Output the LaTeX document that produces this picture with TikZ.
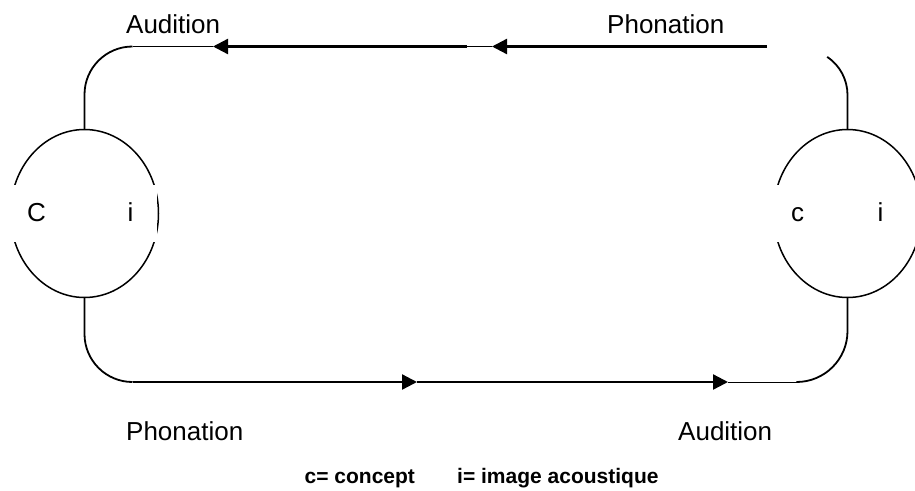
\documentclass[tikz,border=0pt]{standalone}
\usepackage{fontspec}
\setmainfont{Liberation Sans}
\usetikzlibrary{shapes.geometric,arrows.meta}
\begin{document}
\begin{tikzpicture}[x=1pt,y=-1pt,
  ring/.style={draw, ellipse, line width=1.5pt, minimum width=148pt, minimum height=168pt, inner sep=0pt, outer sep=0pt},
  conn/.style={line width=1.8pt},
  thinline/.style={line width=0.8pt},
  flow/.style={line width=2.3pt, -{Triangle[length=15pt,width=15pt]}},
  lab/.style={anchor=base west, inner sep=0pt, font=\fontsize{26}{30}\selectfont},
  legend/.style={anchor=base west, inner sep=0pt, font=\fontsize{21}{25}\selectfont\bfseries},
  mask/.style={fill=white, draw=none}]
\useasboundingbox (0,0) rectangle (915,490);

% ellipses
\node[ring] (L) at (84.5,213.5) {};
\node[ring] (R) at (847.5,213.5) {};

% white text boxes covering the ellipses
\fill[mask] (0,185) rectangle (60,242);
\fill[mask] (100,185) rectangle (157,242);
\fill[mask] (768,185) rectangle (830,242);
\fill[mask] (860,185) rectangle (915,242);

% labels inside ellipses
\node[lab] (Lc) at (27,221) {C};
\node[lab] (Li) at (127.5,221) {i};
\node[lab] (Rc) at (791,221) {c};
\node[lab] (Ri) at (877.5,221) {i};

% coordinates
\coordinate (a1) at (767,46.5);
\coordinate (a2) at (492,46.5);
\coordinate (a3) at (467,46.5);
\coordinate (a4) at (213,46.5);
\coordinate (b2) at (417,382);
\coordinate (b3) at (728,382);

% top connectors
\draw[conn] (L.north) -- (84.5,94.5) arc[start angle=180, end angle=270, radius=48] coordinate (tl);
\draw[thinline] (tl) -- (a4);
\draw[thinline] (a3) -- (a2);
\draw[flow] (a1) -- (a2);
\draw[flow] (a3) -- (a4);
\draw[conn] (R.north) -- (847.5,95) arc[start angle=0, end angle=-56, radius=46];

% bottom connectors
\draw[conn] (L.south) -- (84.5,334) arc[start angle=180, end angle=90, radius=48] coordinate (bl);
\draw[flow] (bl) -- (b2);
\draw[flow] (b2) -- (b3);
\draw[conn] (R.south) -- (847.5,331) arc[start angle=0, end angle=90, radius=51] coordinate (br);
\draw[thinline] (br) -- (b3);

% labels
\node[lab] (tAud) at (126,33) {Audition};
\node[lab] (tPho) at (607,33) {Phonation};
\node[lab] (bPho) at (126,440) {Phonation};
\node[lab] (bAud) at (678,440) {Audition};

% legend
\node[legend] (lc) at (304.5,483) {c= concept};
\node[legend] (li) at (457,483) {i= image acoustique};
\end{tikzpicture}
\end{document}
